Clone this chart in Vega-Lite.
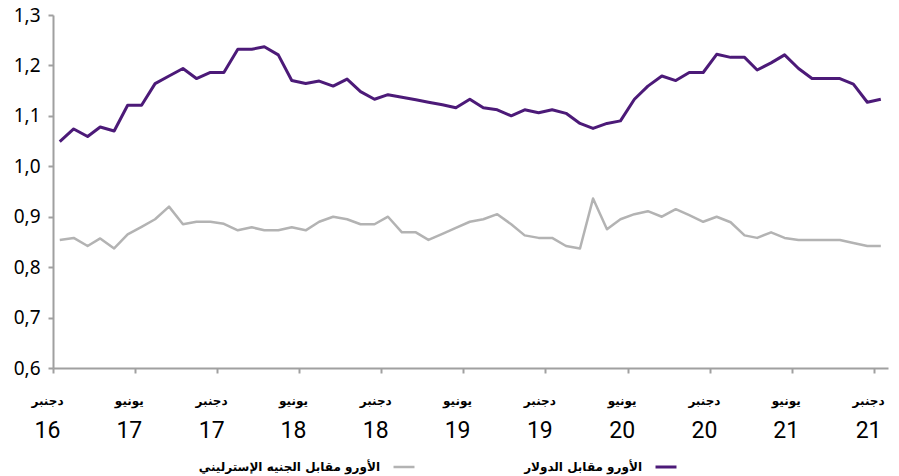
{
  "$schema": "https://vega.github.io/schema/vega-lite/v6.json",
  "autosize": {"type": "none"},
  "width": 835,
  "height": 353,
  "padding": {"left": 53, "top": 15, "right": 11, "bottom": 108},
  "background": "white",
  "config": {"view": {"stroke": null}},
  "data": {
    "values": [
      {"date": "2016-12-16", "usd": 1.049, "gbp": 0.854},
      {"date": "2017-01-16", "usd": 1.074, "gbp": 0.858},
      {"date": "2017-02-16", "usd": 1.059, "gbp": 0.842},
      {"date": "2017-03-16", "usd": 1.078, "gbp": 0.857},
      {"date": "2017-04-16", "usd": 1.070, "gbp": 0.837},
      {"date": "2017-05-16", "usd": 1.121, "gbp": 0.865},
      {"date": "2017-06-16", "usd": 1.121, "gbp": 0.880},
      {"date": "2017-07-16", "usd": 1.164, "gbp": 0.895},
      {"date": "2017-08-16", "usd": 1.179, "gbp": 0.920},
      {"date": "2017-09-16", "usd": 1.194, "gbp": 0.885},
      {"date": "2017-10-16", "usd": 1.174, "gbp": 0.890},
      {"date": "2017-11-16", "usd": 1.186, "gbp": 0.890},
      {"date": "2017-12-16", "usd": 1.186, "gbp": 0.886},
      {"date": "2018-01-16", "usd": 1.232, "gbp": 0.873},
      {"date": "2018-02-16", "usd": 1.232, "gbp": 0.879},
      {"date": "2018-03-16", "usd": 1.237, "gbp": 0.873},
      {"date": "2018-04-16", "usd": 1.221, "gbp": 0.873},
      {"date": "2018-05-16", "usd": 1.170, "gbp": 0.879},
      {"date": "2018-06-16", "usd": 1.164, "gbp": 0.873},
      {"date": "2018-07-16", "usd": 1.169, "gbp": 0.890},
      {"date": "2018-08-16", "usd": 1.159, "gbp": 0.900},
      {"date": "2018-09-16", "usd": 1.173, "gbp": 0.895},
      {"date": "2018-10-16", "usd": 1.148, "gbp": 0.885},
      {"date": "2018-11-16", "usd": 1.133, "gbp": 0.885},
      {"date": "2018-12-16", "usd": 1.142, "gbp": 0.900},
      {"date": "2019-01-16", "usd": 1.137, "gbp": 0.869},
      {"date": "2019-02-16", "usd": 1.132, "gbp": 0.869},
      {"date": "2019-03-16", "usd": 1.127, "gbp": 0.854},
      {"date": "2019-04-16", "usd": 1.122, "gbp": 0.866},
      {"date": "2019-05-16", "usd": 1.116, "gbp": 0.878},
      {"date": "2019-06-16", "usd": 1.133, "gbp": 0.890},
      {"date": "2019-07-16", "usd": 1.116, "gbp": 0.895},
      {"date": "2019-08-16", "usd": 1.112, "gbp": 0.905},
      {"date": "2019-09-16", "usd": 1.100, "gbp": 0.885},
      {"date": "2019-10-16", "usd": 1.112, "gbp": 0.863},
      {"date": "2019-11-16", "usd": 1.106, "gbp": 0.858},
      {"date": "2019-12-16", "usd": 1.112, "gbp": 0.858},
      {"date": "2020-01-16", "usd": 1.105, "gbp": 0.842},
      {"date": "2020-02-16", "usd": 1.085, "gbp": 0.837},
      {"date": "2020-03-16", "usd": 1.075, "gbp": 0.936},
      {"date": "2020-04-16", "usd": 1.085, "gbp": 0.875},
      {"date": "2020-05-16", "usd": 1.090, "gbp": 0.895},
      {"date": "2020-06-16", "usd": 1.133, "gbp": 0.905},
      {"date": "2020-07-16", "usd": 1.159, "gbp": 0.911},
      {"date": "2020-08-16", "usd": 1.179, "gbp": 0.900},
      {"date": "2020-09-16", "usd": 1.170, "gbp": 0.915},
      {"date": "2020-10-16", "usd": 1.186, "gbp": 0.903},
      {"date": "2020-11-16", "usd": 1.186, "gbp": 0.890},
      {"date": "2020-12-16", "usd": 1.222, "gbp": 0.900},
      {"date": "2021-01-16", "usd": 1.216, "gbp": 0.889},
      {"date": "2021-02-16", "usd": 1.216, "gbp": 0.863},
      {"date": "2021-03-16", "usd": 1.191, "gbp": 0.858},
      {"date": "2021-04-16", "usd": 1.205, "gbp": 0.869},
      {"date": "2021-05-16", "usd": 1.221, "gbp": 0.858},
      {"date": "2021-06-16", "usd": 1.194, "gbp": 0.854},
      {"date": "2021-07-16", "usd": 1.174, "gbp": 0.854},
      {"date": "2021-08-16", "usd": 1.174, "gbp": 0.854},
      {"date": "2021-09-16", "usd": 1.174, "gbp": 0.854},
      {"date": "2021-10-16", "usd": 1.163, "gbp": 0.848},
      {"date": "2021-11-16", "usd": 1.127, "gbp": 0.842},
      {"date": "2021-12-16", "usd": 1.133, "gbp": 0.842}
    ]
  },
  "transform": [{"fold": ["usd", "gbp"], "as": ["series", "rate"]}],
  "resolve": {"axis": {"x": "independent"}},
  "layer": [
    {
      "mark": {"type": "line", "strokeJoin": "round"},
      "encoding": {
        "x": {
          "field": "date",
          "type": "temporal",
          "scale": {
            "type": "utc",
            "domain": [
              {"year": 2016, "month": 12, "date": 1, "utc": true},
              {"year": 2022, "month": 1, "date": 1, "utc": true}
            ]
          },
          "axis": {
            "orient": "bottom",
            "title": null,
            "grid": false,
            "values": [
              {"year": 2016, "month": 12, "date": 1, "utc": true},
              {"year": 2017, "month": 6, "date": 1, "utc": true},
              {"year": 2017, "month": 12, "date": 1, "utc": true},
              {"year": 2018, "month": 6, "date": 1, "utc": true},
              {"year": 2018, "month": 12, "date": 1, "utc": true},
              {"year": 2019, "month": 6, "date": 1, "utc": true},
              {"year": 2019, "month": 12, "date": 1, "utc": true},
              {"year": 2020, "month": 6, "date": 1, "utc": true},
              {"year": 2020, "month": 12, "date": 1, "utc": true},
              {"year": 2021, "month": 6, "date": 1, "utc": true},
              {"year": 2021, "month": 12, "date": 1, "utc": true}
            ],
            "labelExpr": "utcmonth(datum.value) == 11 ? 'دجنبر' : 'يونيو'",
            "labelFont": "DejaVu Sans",
            "labelFontWeight": "bold",
            "labelFontSize": 12,
            "labelColor": "#000000",
            "labelPadding": 22,
            "labelOffset": -6,
            "labelFlush": false,
            "labelOverlap": false,
            "domainColor": "#a0a0a0",
            "domainWidth": 2,
            "tickColor": "#a0a0a0",
            "tickWidth": 2,
            "tickSize": 5
          }
        },
        "y": {
          "field": "rate",
          "type": "quantitative",
          "scale": {"domain": [0.6, 1.3], "nice": false, "zero": false},
          "axis": {
            "title": null,
            "grid": false,
            "values": [0.6, 0.7, 0.8, 0.9, 1.0, 1.1, 1.2, 1.3],
            "labelExpr": "replace(format(datum.value, '.1f'), '.', ',')",
            "labelFont": "Noto Sans",
            "labelFontSize": 19,
            "labelColor": "#000000",
            "labelPadding": 8,
            "domainColor": "#a0a0a0",
            "domainWidth": 2,
            "tickColor": "#a0a0a0",
            "tickWidth": 2,
            "tickSize": 5
          }
        },
        "color": {
          "field": "series",
          "type": "nominal",
          "scale": {"domain": ["gbp", "usd"], "range": ["#b3b3b3", "#4c1a78"]},
          "legend": {
            "title": null,
            "orient": "none",
            "legendX": 339,
            "legendY": 440,
            "direction": "horizontal",
            "symbolType": "stroke",
            "symbolStrokeWidth": 3,
            "symbolSize": 440,
            "labelExpr": "datum.value == 'usd' ? 'الأورو مقابل الدولار' : 'الأورو مقابل  الجنيه الإسترليني'",
            "labelFont": "DejaVu Sans",
            "labelFontWeight": "bold",
            "labelFontSize": 12,
            "labelColor": "#000000",
            "labelAlign": "right",
            "labelOffset": -36,
            "labelLimit": 300,
            "columnPadding": 104
          }
        },
        "strokeWidth": {
          "field": "series",
          "type": "nominal",
          "scale": {"domain": ["gbp", "usd"], "range": [2.5, 3]},
          "legend": null
        }
      }
    },
    {
      "mark": {"type": "point", "opacity": 0},
      "encoding": {
        "x": {
          "field": "date",
          "type": "temporal",
          "axis": {
            "orient": "bottom",
            "title": null,
            "grid": false,
            "domain": false,
            "ticks": false,
            "tickSize": 0,
            "values": [
              {"year": 2016, "month": 12, "date": 1, "utc": true},
              {"year": 2017, "month": 6, "date": 1, "utc": true},
              {"year": 2017, "month": 12, "date": 1, "utc": true},
              {"year": 2018, "month": 6, "date": 1, "utc": true},
              {"year": 2018, "month": 12, "date": 1, "utc": true},
              {"year": 2019, "month": 6, "date": 1, "utc": true},
              {"year": 2019, "month": 12, "date": 1, "utc": true},
              {"year": 2020, "month": 6, "date": 1, "utc": true},
              {"year": 2020, "month": 12, "date": 1, "utc": true},
              {"year": 2021, "month": 6, "date": 1, "utc": true},
              {"year": 2021, "month": 12, "date": 1, "utc": true}
            ],
            "labelExpr": "utcFormat(datum.value, '%y')",
            "labelFont": "Roboto",
            "labelFontSize": 23,
            "labelColor": "#000000",
            "labelPadding": 51,
            "labelOffset": -6,
            "labelFlush": false,
            "labelOverlap": false
          }
        }
      }
    }
  ]
}
